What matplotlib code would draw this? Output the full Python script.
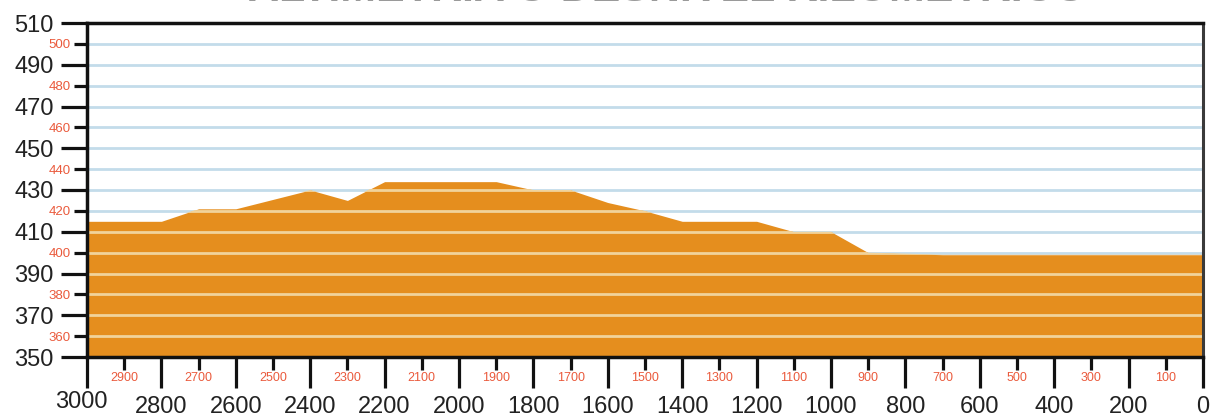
import matplotlib.pyplot as plt
from matplotlib.transforms import ScaledTranslation

# profile (distance to finish in m, altitude in m)
dist = [3000, 2800, 2700, 2600, 2400, 2300, 2200, 1900, 1800, 1700,
        1600, 1500, 1400, 1200, 1100, 1000, 900, 700, 0]
alt = [415, 415, 421, 421, 430, 425, 434, 434, 430, 430,
       424, 420, 415, 415, 410, 410, 400, 399, 399]

x_major = list(range(0, 3001, 200))
x_minor = list(range(100, 3000, 200))
y_major = list(range(350, 511, 20))
y_minor = list(range(360, 501, 20))
title = "ALTIMETRIA O DESNIVEL KILOMETRICO"

orange = "#e58e1e"
red = "#ea5a3c"
plt.rcParams['font.family'] = ['Liberation Sans', 'DejaVu Sans']

fig = plt.figure(figsize=(12.12, 4.17), dpi=100)
ax = fig.add_axes([87 / 1212, 60 / 417, 1116 / 1212, 334 / 417])

ax.set_xlim(3000, 0)
ax.set_ylim(350, 510)

# light blue grid lines, then the filled profile
grid_vals = list(range(360, 510, 10))
for g in grid_vals:
    ax.axhline(g, color="#c3dcea", lw=2, zorder=1)
fill = ax.fill_between(dist, alt, 350, color=orange, lw=0, zorder=2)

# same lines in cream, but only inside the profile
clip = fill.get_paths()[0]
for g in grid_vals:
    ln = ax.axhline(g, color="#f1d39b", lw=2, zorder=3)
    ln.set_clip_path(clip, ax.transData)

# spines
for s in ["left", "bottom", "top"]:
    ax.spines[s].set_linewidth(2.5)
    ax.spines[s].set_color("#111111")
ax.spines["right"].set_linewidth(2.2)
ax.spines["right"].set_color("#3a3a3a")
for s in ax.spines.values():
    s.set_zorder(5)

# y ticks: big black majors, small red minors
ax.set_yticks(y_major)
ax.set_yticklabels([str(v) for v in y_major], fontsize=17, color="#222222")
ax.set_yticks(y_minor, minor=True)
ax.set_yticklabels([str(v) for v in y_minor], minor=True, fontsize=9.5, color=red)
ax.tick_params(axis="y", which="major", length=19, width=2.3, pad=5, color="#111111")
ax.tick_params(axis="y", which="minor", length=9.5, width=2.3, pad=2.5, color="#111111")

# x ticks: labels drawn by hand so the 3000 one can sit a bit higher
ax.set_xticks(x_major)
ax.set_xticks(x_minor, minor=True)
ax.set_xticklabels([])
ax.tick_params(axis="x", which="major", length=22, width=2.3, color="#111111")
ax.tick_params(axis="x", which="minor", length=9.5, width=2.3, color="#111111")

xtrans = ax.get_xaxis_transform()
for v in x_minor:
    ax.text(v, 0, str(v), transform=xtrans + ScaledTranslation(0, -0.21, fig.dpi_scale_trans),
            ha="center", va="center", fontsize=9, color=red, clip_on=False)
for v in x_major:
    dy = -45 if v == 3000 else -50
    dx = -6 if v == 3000 else 0
    ax.text(v, 0, str(v), transform=xtrans + ScaledTranslation(dx / 100, dy / 100, fig.dpi_scale_trans),
            ha="center", va="center", fontsize=17, color="#222222", clip_on=False)

# title, mostly cut off by the top edge as in the original
fig.text(0.551, 0.997, title, ha="center", va="baseline", fontsize=31,
         fontweight="bold", color="#9a9a9a")

fig.savefig("out.png", dpi=100)
